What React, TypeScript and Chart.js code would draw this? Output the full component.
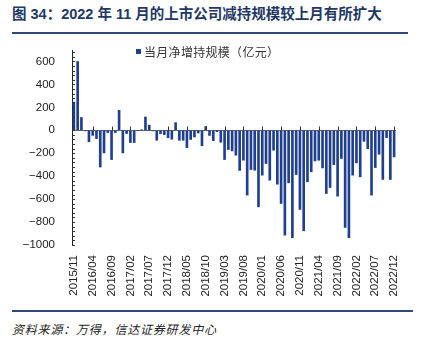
import React, { useEffect, useRef } from 'react';
import { Chart, registerables } from 'chart.js';

Chart.register(...registerables);

// Categories: monthly, 2015/11 .. 2022/12
const FIRST_YEAR = 2015;
const FIRST_MONTH = 11;
const MONTH_COUNT = 86;
const months: string[] = [];
for (let k = 0; k < MONTH_COUNT; k++) {
  const m0 = FIRST_MONTH - 1 + k;
  const yy = FIRST_YEAR + Math.floor(m0 / 12);
  const mm = (m0 % 12) + 1;
  months.push(`${yy}/${String(mm).padStart(2, '0')}`);
}

// 当月净增持规模（亿元）
const netChange: number[] = [
  246, 600, 112, -5, -100, -44, -72, -320, -197, -20,
  -255, -20, 174, -197, -28, -107, -107, -3, 3, 116,
  45, -5, -87, -29, -38, -65, -78, 67, -87, -87,
  -151, -80, -58, -23, -135, 33, -45, -90, -12, -104,
  -255, -168, -180, -217, -350, -261, -565, -342, -348, -667,
  -391, -290, -435, -174, -470, -638, -914, -458, -937, -386,
  -690, -876, -449, -362, -267, -261, -328, -551, -499, -299,
  -574, -246, -847, -937, -391, -284, -406, -96, -160, -565,
  -325, -209, -429, -64, -429, -232,
];

const yTickValues = [700, 600, 400, 200, 0, -200, -400, -600, -800, -1000];
const yLabelValues = [600, 400, 200, 0, -200, -400, -600, -800, -1000];
const LABEL_EVERY = 5;

const TITLE = '图 34：2022 年 11 月的上市公司减持规模较上月有所扩大';
const LEGEND = '当月净增持规模（亿元）';
const SOURCE = '资料来源：万得，信达证券研发中心';

const NAVY = '#1F3F8F';
const FONT = '"Liberation Sans", Arial, "Noto Sans CJK SC", sans-serif';

const tickPlugin = {
  id: 'axisTicks',
  afterDraw(chart: any) {
    const { ctx } = chart;
    const x = chart.scales.x;
    const y = chart.scales.y;
    ctx.save();
    ctx.strokeStyle = '#333';
    ctx.lineWidth = 1;
    const y0 = Math.round(y.getPixelForValue(0)) + 0.5;
    ctx.beginPath();
    for (let i = 0; i < months.length; i += LABEL_EVERY) {
      const px = Math.round(x.getPixelForValue(i)) + 0.5;
      ctx.moveTo(px, y0);
      ctx.lineTo(px, y0 - 4);
    }
    for (let v = -1000; v <= 680; v += 40) {
      const py = Math.round(y.getPixelForValue(v)) + 0.5;
      ctx.moveTo(y.right, py);
      ctx.lineTo(y.right + 3, py);
    }
    ctx.stroke();
    ctx.restore();
  },
};

export default function App() {
  const ref = useRef<HTMLCanvasElement | null>(null);

  useEffect(() => {
    if (!ref.current) return;
    const chart = new Chart(ref.current, {
      type: 'bar',
      data: {
        labels: months,
        datasets: [
          {
            label: LEGEND,
            data: netChange,
            backgroundColor: NAVY,
            barThickness: 2,
          },
        ],
      },
      options: {
        responsive: false,
        animation: false,
        devicePixelRatio: 1,
        layout: { padding: { top: 14, right: 27, left: 0, bottom: 0 } },
        plugins: { legend: { display: false }, tooltip: { enabled: false } },
        scales: {
          x: {
            offset: true,
            grid: { display: false, drawTicks: false },
            border: { display: false },
            ticks: {
              autoSkip: false,
              maxRotation: 90,
              minRotation: 90,
              padding: 10,
              color: '#222',
              font: { family: FONT, size: 11.5 },
              callback: (_v: any, i: number) => (i % LABEL_EVERY === 0 ? months[i] : ''),
            },
            afterFit: (s: any) => {
              s.height = 63;
            },
          },
          y: {
            min: -1000,
            max: 700,
            afterBuildTicks: (s: any) => {
              s.ticks = yTickValues.map((v) => ({ value: v }));
            },
            grid: {
              drawTicks: false,
              color: (c: any) => (c.tick && c.tick.value === 0 ? '#666' : 'rgba(0,0,0,0)'),
              lineWidth: 1,
            },
            border: { display: true, color: '#222', width: 1 },
            ticks: {
              padding: 17,
              color: '#222',
              font: { family: FONT, size: 11.5 },
              callback: (v: any) =>
                yLabelValues.includes(Number(v)) ? String(v).replace('-', '\u2212') : '',
            },
            afterFit: (s: any) => {
              s.width = 72;
              s.paddingTop = 0;
              s.paddingBottom = 0;
            },
          },
        },
      },
      plugins: [tickPlugin],
    });
    return () => chart.destroy();
  }, []);

  return (
    <div style={{ position: 'relative', width: 423, height: 340, background: '#fff', overflow: 'hidden' }}>
      <style>{'body{margin:0;}'}</style>
      <div
        style={{
          position: 'absolute',
          left: 12,
          top: 5,
          lineHeight: '18px',
          fontSize: 14.5,
          fontWeight: 'bold',
          color: '#1F3864',
          fontFamily: FONT,
          whiteSpace: 'nowrap',
        }}
      >
        {TITLE}
      </div>
      <div style={{ position: 'absolute', left: 12, top: 32, width: 396, height: 2, background: '#2E4A7A' }} />
      <canvas
        ref={ref}
        width={423}
        height={272}
        style={{ position: 'absolute', left: 0, top: 36, width: 423, height: 272 }}
      />
      <div style={{ position: 'absolute', left: 136, top: 49, width: 5, height: 5, background: NAVY }} />
      <div
        style={{
          position: 'absolute',
          left: 144,
          top: 44,
          lineHeight: '15px',
          fontSize: 12,
          letterSpacing: 0.3,
          color: '#333',
          fontFamily: '"Noto Sans CJK SC", sans-serif',
          whiteSpace: 'nowrap',
        }}
      >
        {LEGEND}
      </div>
      <div style={{ position: 'absolute', left: 12, top: 310, width: 401, height: 2, background: '#2E4A7A' }} />
      <div
        style={{
          position: 'absolute',
          left: 12,
          top: 321,
          lineHeight: '16px',
          fontSize: 12,
          fontStyle: 'italic',
          letterSpacing: 0.8,
          color: '#222',
          fontFamily: '"Noto Sans CJK SC", sans-serif',
          whiteSpace: 'nowrap',
        }}
      >
        {SOURCE}
      </div>
    </div>
  );
}
